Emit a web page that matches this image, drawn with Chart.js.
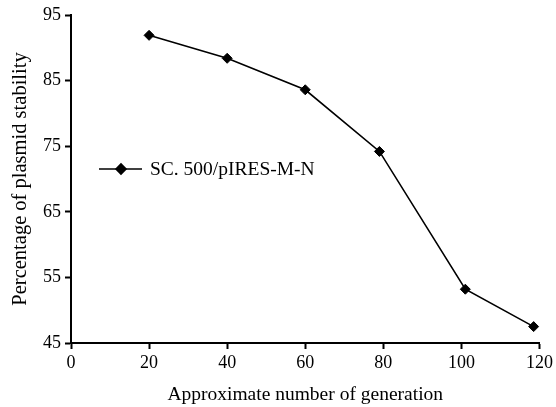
<!DOCTYPE html>
<html>
<head>
<meta charset="utf-8">
<script src="https://cdn.jsdelivr.net/npm/chart.js@4"></script>
<style>
  body { margin: 0; background: #fff; }
  canvas { display: block; }
</style>
</head>
<body>
<canvas id="stabilityChart" width="556" height="407"></canvas>
<script>
var seriesName = "SC. 500/pIRES-M-N";
var generations = [20, 40, 60, 79, 101, 118.5];
var stability = [91.9, 88.4, 83.6, 74.2, 53.2, 47.5];
var xTicks = [0, 20, 40, 60, 80, 100, 120];
var yTicks = [45, 55, 65, 75, 85, 95];

var points = generations.map((g, i) => ({ x: g, y: stability[i] }));

// legend sits inside the plot, left of the curve
var insideLegend = {
  id: "insideLegend",
  afterDraw: chart => {
    var ds = chart.data.datasets[0];
    var ctx = chart.ctx;
    var y = 169;
    ctx.save();
    ctx.strokeStyle = ds.borderColor;
    ctx.lineWidth = ds.borderWidth;
    ctx.beginPath();
    ctx.moveTo(99, y);
    ctx.lineTo(142, y);
    ctx.stroke();
    Chart.helpers.drawPoint(ctx, { pointStyle: "rectRot", radius: ds.pointRadius, borderWidth: 1 }, 121, y);
    ctx.fillStyle = "#000";
    ctx.font = "19.5px 'Liberation Serif'";
    ctx.textBaseline = "middle";
    ctx.fillText(ds.label, 150, y + 1);
    ctx.restore();
  }
};

var tickFont = { family: "'Liberation Serif'", size: 18 };

new Chart("stabilityChart", {
  type: "line",
  data: {
    datasets: [{
      label: seriesName,
      data: points,
      borderColor: "#000",
      backgroundColor: "#000",
      borderWidth: 1.6,
      pointStyle: "rectRot",
      pointRadius: 5,
      pointBorderWidth: 1,
      tension: 0
    }]
  },
  options: {
    responsive: false,
    animation: false,
    layout: { padding: { top: 15, right: 16, left: 0, bottom: 0 } },
    plugins: {
      legend: { display: false },
      tooltip: { enabled: false }
    },
    scales: {
      x: {
        type: "linear",
        min: 0,
        max: 120,
        afterBuildTicks: s => { s.ticks = xTicks.map(v => ({ value: v })); },
        afterFit: s => { s.height = 64; },
        grid: { drawOnChartArea: false, drawTicks: true, tickLength: 6, tickWidth: 2, color: "#000" },
        border: { display: true, color: "#000", width: 2 },
        ticks: { color: "#000", font: tickFont, padding: 3, maxRotation: 0 },
        title: { display: true, text: "Approximate number of generation", color: "#000", font: { family: "'Liberation Serif'", size: 19.5 }, padding: { top: 15, bottom: 0 } }
      },
      y: {
        min: 45,
        max: 95,
        afterBuildTicks: s => { s.ticks = yTicks.map(v => ({ value: v })); },
        afterFit: s => { s.width = 71; },
        grid: { drawOnChartArea: false, drawTicks: true, tickLength: 6, tickWidth: 2, color: "#000" },
        border: { display: true, color: "#000", width: 2 },
        ticks: { color: "#000", font: tickFont, padding: 4 },
        title: { display: true, text: "Percentage of plasmid stability", color: "#000", font: { family: "'Liberation Serif'", size: 20.5 }, padding: { top: 8, bottom: 0 } }
      }
    }
  },
  plugins: [insideLegend]
});
</script>
</body>
</html>
